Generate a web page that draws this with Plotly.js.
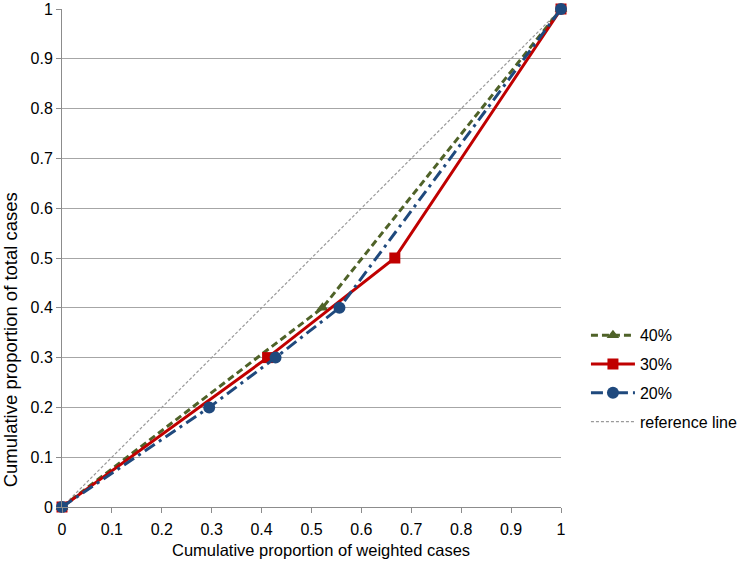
<!DOCTYPE html>
<html>
<head>
<meta charset="utf-8">
<script src="https://cdn.plot.ly/plotly-3.0.1.min.js"></script>
<style>html,body{margin:0;padding:0;background:#fff;}#chart{width:740px;height:562px;}</style>
</head>
<body>
<div id="chart"></div>
<script>
// Data
var x40 = [0, 0.522, 1];
var y40 = [0, 0.4, 1];
var x30 = [0, 0.412, 0.667, 1];
var y30 = [0, 0.3, 0.5, 1];
var x20 = [0, 0.295, 0.428, 0.556, 1];
var y20 = [0, 0.2, 0.3, 0.4, 1];
var xRef = [0, 1];
var yRef = [0, 1];
var tickVals = [0, 0.1, 0.2, 0.3, 0.4, 0.5, 0.6, 0.7, 0.8, 0.9, 1];
var tickText = ['0', '0.1', '0.2', '0.3', '0.4', '0.5', '0.6', '0.7', '0.8', '0.9', '1'];
var xTitle = 'Cumulative proportion of weighted cases';
var yTitle = 'Cumulative proportion of total cases';

var traces = [
  {x: xRef, y: yRef, name: 'reference line', mode: 'lines', legendrank: 4, legendgroup: 'd',
   line: {color: '#9a9a9a', width: 1.2, dash: '3px,2px'}, cliponaxis: false},
  {x: x40, y: y40, name: '40%', mode: 'lines+markers', legendrank: 1, legendgroup: 'a',
   line: {color: '#4f6228', width: 3, dash: '7px,4px'},
   marker: {symbol: 'triangle-up', size: 11, color: '#4f6228'}, cliponaxis: false},
  {x: x30, y: y30, name: '30%', mode: 'lines+markers', legendrank: 2, legendgroup: 'b',
   line: {color: '#c00000', width: 3},
   marker: {symbol: 'square', size: 11, color: '#c00000'}, cliponaxis: false},
  {x: x20, y: y20, name: '20%', mode: 'lines+markers', legendrank: 3, legendgroup: 'c',
   line: {color: '#1f497d', width: 3, dash: '12px,5px,3px,5px'},
   marker: {symbol: 'circle', size: 12, color: '#1f497d'}, cliponaxis: false}
];

var layout = {
  width: 740, height: 562,
  margin: {l: 62, r: 179, t: 9, b: 55, autoexpand: false},
  paper_bgcolor: '#fff', plot_bgcolor: '#fff',
  font: {family: 'Liberation Sans, Arial, sans-serif', size: 16, color: '#000'},
  showlegend: true,
  legend: {x: 1.05, y: 0.379, xanchor: 'left', yanchor: 'top',
           font: {size: 16, color: '#000'}, tracegroupgap: 5, itemwidth: 44,
           bgcolor: 'rgba(0,0,0,0)'},
  xaxis: {range: [0, 1], tickvals: tickVals, ticktext: tickText,
          showgrid: false, zeroline: false, showline: true, linecolor: '#8c8c8c', linewidth: 1,
          ticks: 'outside', ticklen: 5, tickcolor: '#8c8c8c', tickfont: {size: 16},
          ticklabelstandoff: 3},
  yaxis: {range: [0, 1], tickvals: tickVals, ticktext: tickText,
          showgrid: true, gridcolor: '#a6a6a6', gridwidth: 1, zeroline: false,
          showline: true, linecolor: '#8c8c8c', linewidth: 1,
          ticks: 'outside', ticklen: 5, tickcolor: '#8c8c8c', tickfont: {size: 16}},
  annotations: [
    {text: yTitle, xref: 'paper', yref: 'paper', x: -0.104, y: 0.335,
     xanchor: 'center', yanchor: 'middle', textangle: -90, showarrow: false,
     font: {size: 18.5, color: '#000'}},
    {text: xTitle, xref: 'paper', yref: 'paper', x: 0.519, y: -0.086,
     xanchor: 'center', yanchor: 'middle', showarrow: false,
     font: {size: 16.5, color: '#000'}}
  ]
};

Plotly.newPlot('chart', traces, layout, {displayModeBar: false, staticPlot: true});
</script>
</body>
</html>
